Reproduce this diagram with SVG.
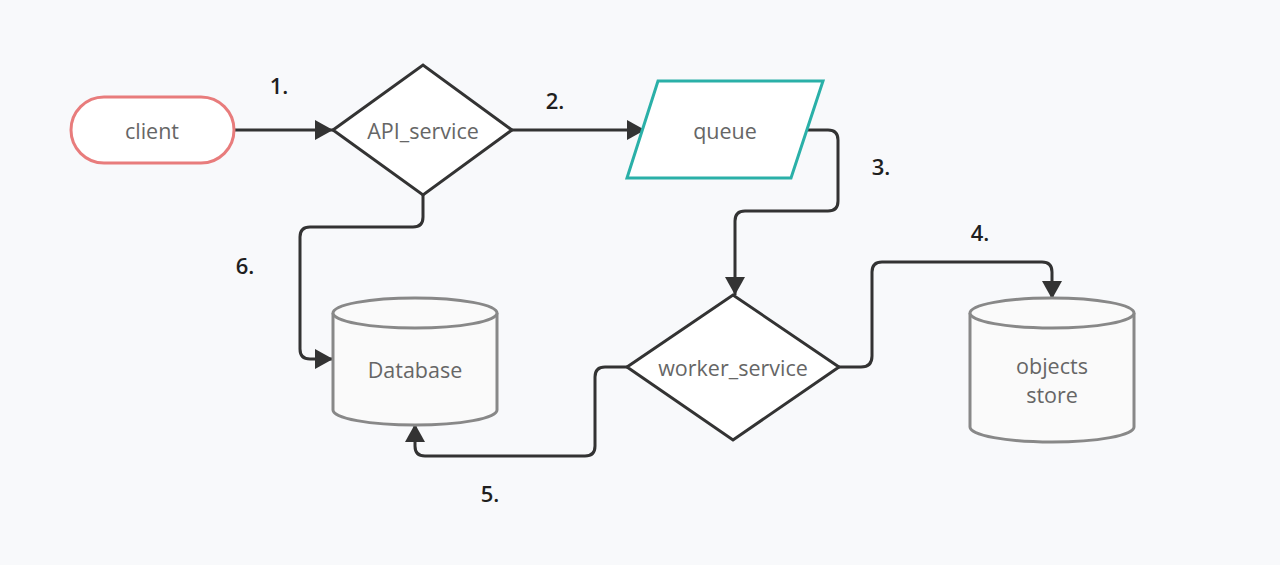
<svg xmlns="http://www.w3.org/2000/svg" width="1280" height="565" viewBox="0 0 1280 565">
<defs>
<style>
.lbl{font-family:"Open Sans","Noto Sans",sans-serif;font-size:21.5px;fill:#666666;text-anchor:middle;dominant-baseline:central}
.num{font-family:"Open Sans","Noto Sans",sans-serif;font-size:22px;font-weight:600;fill:#1f1f1f;text-anchor:middle;dominant-baseline:central}
.conn{fill:none;stroke:#333333;stroke-width:3;stroke-linejoin:round}
.cyl{fill:#fafafa;stroke:#888888;stroke-width:3}
.dia{fill:#ffffff;stroke:#333333;stroke-width:3;stroke-linejoin:miter}
</style>
<marker id="arr" markerUnits="userSpaceOnUse" markerWidth="20" markerHeight="22" refX="19" refY="11" orient="auto">
<path d="M1,1 L19,11 L1,21 z" fill="#333333"/>
</marker>
</defs>
<rect width="1280" height="565" fill="#f8f9fb"/>

<g id="connectors">
<path class="conn" d="M234,130 H333" marker-end="url(#arr)"/>
<path class="conn" d="M512,130 H645" marker-end="url(#arr)"/>
<path class="conn" d="M807,130 H828 Q838,130 838,140 V201 Q838,211 828,211 H745 Q735,211 735,221 V295" marker-end="url(#arr)"/>
<path class="conn" d="M839,367 H861 Q872,367 872,356 V272 Q872,262 882,262 H1042 Q1052,262 1052,272 V299" marker-end="url(#arr)"/>
<path class="conn" d="M627,367 H605 Q595,367 595,377 V446 Q595,456 585,456 H425 Q415,456 415,446 V424" marker-end="url(#arr)"/>
<path class="conn" d="M423,195 V217 Q423,227 413,227 H310 Q300,227 300,237 V349 Q300,359 310,359 H333" marker-end="url(#arr)"/>
</g>

<g id="label-1"><text class="num" x="279" y="85">1.</text></g>
<g id="label-2"><text class="num" x="555" y="100">2.</text></g>
<g id="label-3"><text class="num" x="881" y="166">3.</text></g>
<g id="label-4"><text class="num" x="980" y="232">4.</text></g>
<g id="label-5"><text class="num" x="490" y="493">5.</text></g>
<g id="label-6"><text class="num" x="245" y="265">6.</text></g>

<g id="client">
<rect x="71" y="97" width="163" height="66" rx="33" fill="#ffffff" stroke="#e87c7c" stroke-width="3"/>
<text class="lbl" x="152" y="130">client</text>
</g>

<g id="api_service">
<polygon class="dia" points="333,130 423,65 512,130 423,195"/>
<text class="lbl" x="423" y="130">API_service</text>
</g>

<g id="queue">
<polygon points="658,81 823,81 791,178 627,178" fill="#ffffff" stroke="#2ab0a8" stroke-width="3"/>
<text class="lbl" x="725" y="130">queue</text>
</g>

<g id="worker_service">
<polygon class="dia" points="627,367 733,295 839,367 733,440"/>
<text class="lbl" x="733" y="367">worker_service</text>
</g>

<g id="database">
<path class="cyl" d="M333,313 V410 A82,15 0 0 0 497,410 V313"/>
<ellipse class="cyl" cx="415" cy="313" rx="82" ry="15"/>
<text class="lbl" x="415" y="369">Database</text>
</g>

<g id="objects_store">
<path class="cyl" d="M970,313 V427 A82,15 0 0 0 1134,427 V313"/>
<ellipse class="cyl" cx="1052" cy="313" rx="82" ry="15"/>
<text class="lbl" x="1052" y="365">objects</text>
<text class="lbl" x="1052" y="394">store</text>
</g>
</svg>
